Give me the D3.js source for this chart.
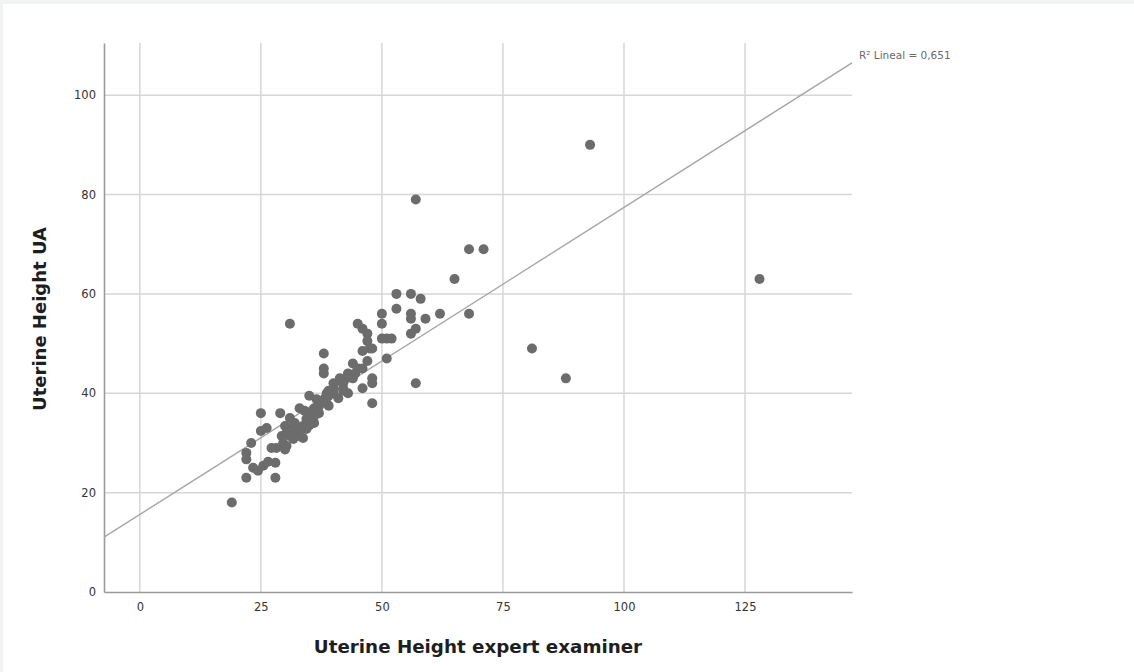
<!DOCTYPE html>
<html>
<head>
<meta charset="utf-8">
<script src="https://cdn.jsdelivr.net/npm/d3@7"></script>
<style>
  html, body { margin: 0; padding: 0; background: #f1f2f4; }
  svg { display: block; }
</style>
</head>
<body>
<script>
// points (expert examiner, UA)
var expertValues = [19, 93, 128, 81, 88, 57, 68, 71, 65, 68, 62, 57, 31, 53, 56, 58, 53, 50, 50, 56,
  56, 59, 57, 56, 50, 51, 52, 51, 45, 46, 47, 47, 47.5, 46, 48, 38, 38, 38, 44, 45,
  46, 47, 43, 44.5, 41.3, 41.3, 42.5, 44, 46, 48, 48, 48, 43, 41, 38.6, 38.2, 38.6, 35, 36.5, 37,
  33, 36, 36, 34.4, 33.7, 31, 31.7, 33, 34.4, 30, 30.3, 32.4, 33, 33.7, 31, 31.7, 29.3, 29.6, 30.3, 30,
  29, 27.2, 28.2, 25, 25, 26.2, 23, 22, 22, 23.4, 24.4, 25.5, 26.5, 28, 22, 28,
  35, 34, 37, 39, 40, 42, 36, 32, 35, 40, 42, 39, 37, 39, 40, 42, 36, 32];
var uaValues = [18, 90, 63, 49, 43, 79, 69, 69, 63, 56, 56, 42, 54, 60, 60, 59, 57, 56, 54, 56,
  55, 55, 53, 52, 51, 51, 51, 47, 54, 53, 52, 50.5, 49, 48.5, 49, 48, 45, 44, 46, 45,
  45, 46.5, 44, 44, 43, 42.5, 43, 43, 41, 43, 42, 38, 40, 39, 40, 39, 38, 39.5, 38.8, 37.4,
  37, 35.4, 34, 34.8, 33.4, 35, 33.4, 33, 32.8, 33.4, 32, 32, 31.4, 31, 31.4, 30.8, 31.4, 30, 29.4, 28.7,
  36, 29, 29, 36, 32.4, 33, 30, 28, 26.7, 25, 24.4, 25.4, 26.2, 26, 23, 23,
  36, 36.5, 38, 39.5, 41, 42, 37, 34, 33.5, 40, 40.5, 37.5, 36, 40.5, 42, 41, 36.5, 32.5];

var xTicks = [0, 25, 50, 75, 100, 125];
var yTicks = [0, 20, 40, 60, 80, 100];

// fit line as printed by SPSS
var fitIntercept = 15.6;
var fitSlope = 0.618;
var fitLabel = "R² Lineal = 0,651";

var width = 1134, height = 672;

var svg = d3.select("body").append("svg")
    .attr("width", width)
    .attr("height", height);

svg.append("rect")
    .attr("x", 3)
    .attr("y", 4)
    .attr("width", width - 3)
    .attr("height", height - 4)
    .attr("fill", "#fff");

var x = d3.scaleLinear().domain([-7.4, 147.1]).range([104, 852]);
var y = d3.scaleLinear().domain([0, 110.5]).range([592, 43]);

var grid = svg.append("g");
grid.selectAll("line.gx")
    .data(xTicks)
    .join("line")
    .attr("class", "gx")
    .attr("x1", (d) => x(d))
    .attr("x2", (d) => x(d))
    .attr("y1", y.range()[0])
    .attr("y2", y.range()[1])
    .attr("stroke", "#d6d6d6")
    .attr("stroke-width", 1.5);
grid.selectAll("line.gy")
    .data(yTicks.filter((d) => d > 0))
    .join("line")
    .attr("class", "gy")
    .attr("x1", x.range()[0])
    .attr("x2", x.range()[1])
    .attr("y1", (d) => y(d))
    .attr("y2", (d) => y(d))
    .attr("stroke", "#d6d6d6")
    .attr("stroke-width", 1.5);

var xAxis = svg.append("g")
    .attr("transform", "translate(0," + y.range()[0] + ")")
    .call(d3.axisBottom(x).tickValues(xTicks).tickSize(0).tickPadding(11));
var yAxis = svg.append("g")
    .attr("transform", "translate(" + x.range()[0] + ",0)")
    .call(d3.axisLeft(y).tickValues(yTicks).tickSize(0).tickPadding(8));

[xAxis, yAxis].forEach(function (a) {
    a.select(".domain").attr("stroke", "#9a9a9a").attr("stroke-width", 1.6);
    a.selectAll("text")
        .attr("fill", "#333")
        .style("font-family", "'DejaVu Sans', sans-serif")
        .style("font-size", "11.5px");
});

// regression line
var x0 = x.domain()[0], x1 = x.domain()[1];
svg.append("line")
    .attr("x1", x(x0))
    .attr("y1", y(fitIntercept + fitSlope * x0))
    .attr("x2", x(x1))
    .attr("y2", y(fitIntercept + fitSlope * x1))
    .attr("stroke", "#a6a6a6")
    .attr("stroke-width", 1.4);

svg.append("text")
    .attr("x", x(x1) + 7)
    .attr("y", y(fitIntercept + fitSlope * x1) - 4)
    .attr("fill", "#6a6a6a")
    .style("font-family", "'DejaVu Sans', sans-serif")
    .style("font-size", "10.5px")
    .text(fitLabel);

svg.append("g")
    .selectAll("circle")
    .data(expertValues.map((d, i) => [d, uaValues[i]]))
    .join("circle")
    .attr("cx", (d) => x(d[0]))
    .attr("cy", (d) => y(d[1]))
    .attr("r", 5)
    .attr("fill", "#6c6c6c");

svg.append("text")
    .attr("x", 478)
    .attr("y", 653)
    .attr("text-anchor", "middle")
    .attr("fill", "#1e1e1e")
    .style("font-family", "'DejaVu Sans', sans-serif")
    .style("font-weight", "bold")
    .style("font-size", "18.3px")
    .text("Uterine Height expert examiner");

svg.append("text")
    .attr("transform", "translate(46,319) rotate(-90)")
    .attr("text-anchor", "middle")
    .attr("fill", "#1e1e1e")
    .style("font-family", "'DejaVu Sans', sans-serif")
    .style("font-weight", "bold")
    .style("font-size", "18px")
    .text("Uterine Height UA");
</script>
</body>
</html>
